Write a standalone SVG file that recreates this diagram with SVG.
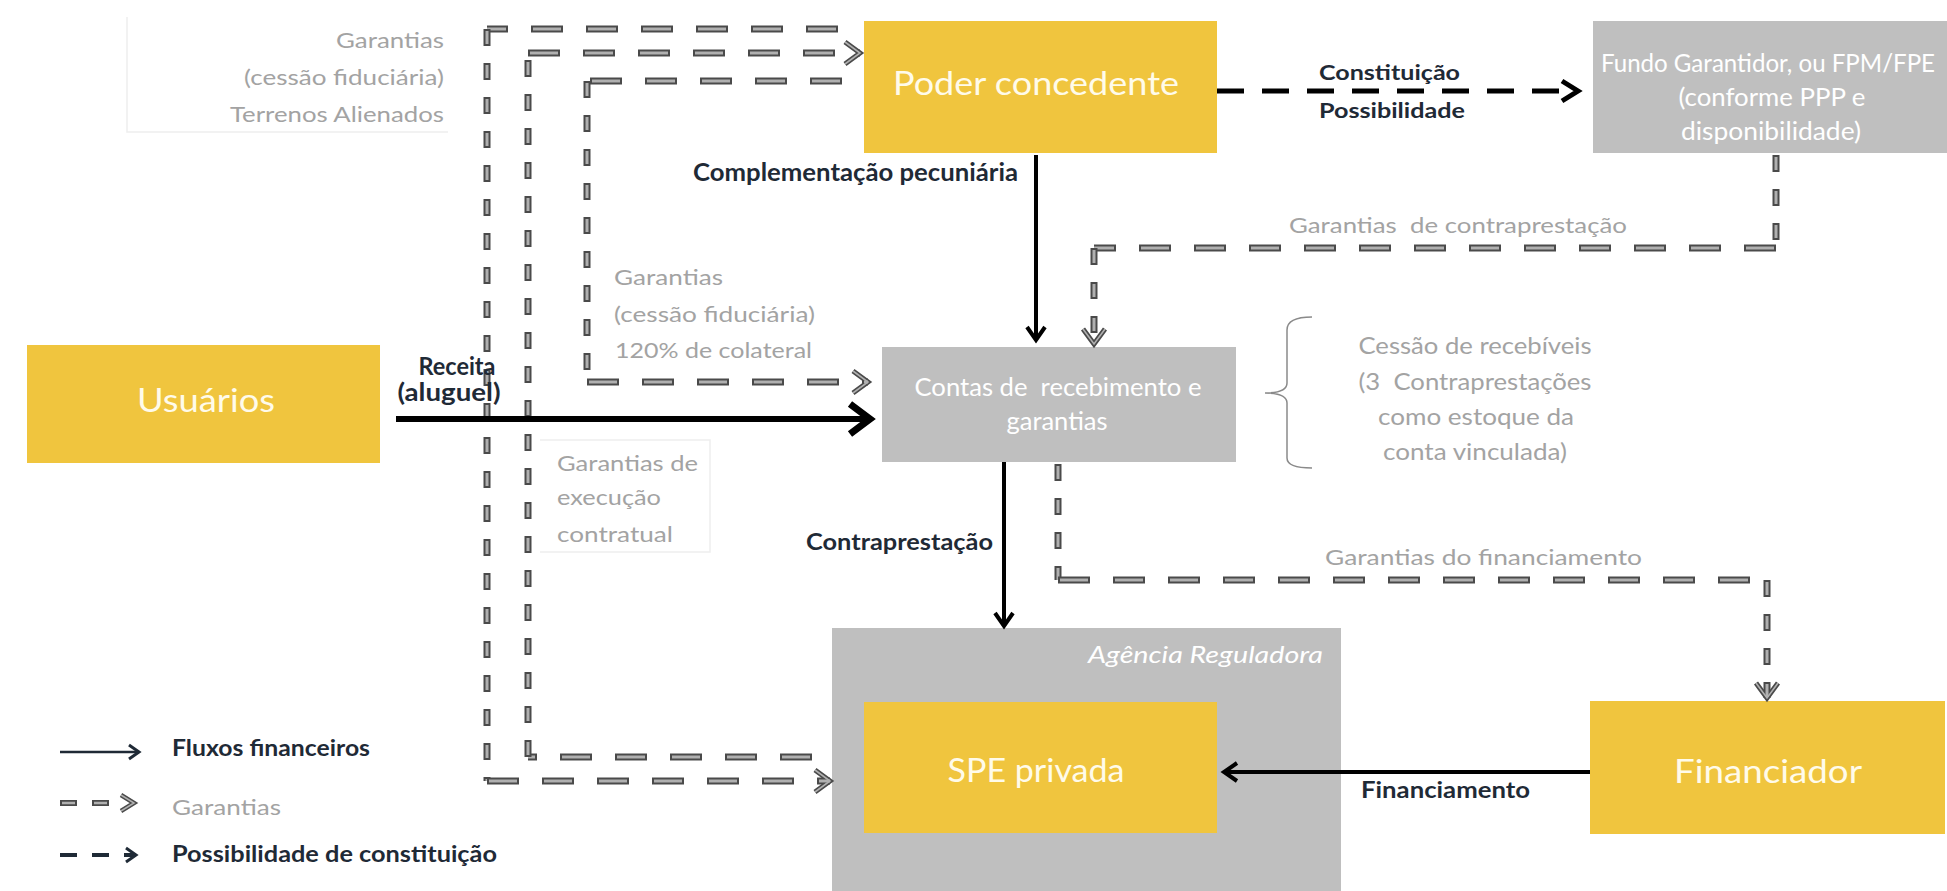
<svg xmlns="http://www.w3.org/2000/svg" width="1947" height="891" viewBox="0 0 1947 891">
<style>
text{font-family:Lato,"Liberation Sans",sans-serif}
.yel{fill:#F0C53E}
.gry{fill:#BFBFBF}
.wt{fill:#FFFBEA}
.ww{fill:#FFFFFF}
.dk{fill:#1F2A36;font-weight:bold}
.gt{fill:#A3A3A3}
.blk{stroke:#000;fill:none}
.go{stroke:#4A4A4A;stroke-width:7;fill:none}
.gi{stroke:#B0B0B0;stroke-width:3;fill:none}
.h.go{stroke-dasharray:32 23}
.h.gi{stroke-dasharray:28 27;stroke-dashoffset:-2}
.v.go{stroke-dasharray:17 17}
.v.gi{stroke-dasharray:13 21;stroke-dashoffset:-2}
.faint{stroke:#EEEEEE;stroke-width:1.5;fill:none}
</style>
<defs>
<marker id="mBig" markerUnits="userSpaceOnUse" orient="auto" overflow="visible" refX="0" refY="0" markerWidth="1" markerHeight="1">
<path d="M-20,-15 L0,0 L-20,15" stroke="#000" stroke-width="7" fill="none"/>
</marker>
<marker id="mMed" markerUnits="userSpaceOnUse" orient="auto" overflow="visible" refX="0" refY="0" markerWidth="1" markerHeight="1">
<path d="M-13,-9 L0,0 L-13,9" stroke="#000" stroke-width="4" fill="none"/>
</marker>
<marker id="mDash" markerUnits="userSpaceOnUse" orient="auto" overflow="visible" refX="0" refY="0" markerWidth="1" markerHeight="1">
<path d="M-16,-10 L0,0 L-16,10" stroke="#000" stroke-width="5" fill="none"/>
</marker>
<marker id="mGar" markerUnits="userSpaceOnUse" orient="auto" overflow="visible" refX="0" refY="0" markerWidth="1" markerHeight="1">
<path d="M-15,-11 L0,0 L-15,11" stroke="#4A4A4A" stroke-width="5" fill="none"/>
<path d="M-15,-11 L0,0 L-15,11" stroke="#B0B0B0" stroke-width="1.6" fill="none"/>
</marker>
<marker id="mSm" markerUnits="userSpaceOnUse" orient="auto" overflow="visible" refX="0" refY="0" markerWidth="1" markerHeight="1">
<path d="M-10,-7 L0,0 L-10,7" stroke="#1F2A36" stroke-width="3" fill="none"/>
</marker>
</defs>
<rect width="1947" height="891" fill="#FFFFFF"/>

<!-- faint text-box borders -->
<g id="faint-borders">
<path class="faint" d="M127,17 L127,132 L448,132"/>
<path class="faint" d="M540,440 L710,440 L710,552 L540,552"/>
</g>

<!-- nodes -->
<g id="agencia">
<rect class="gry" x="832" y="628" width="509" height="263"/>
<text class="ww" x="1088" y="663" font-size="23" font-style="italic" textLength="235" lengthAdjust="spacingAndGlyphs">Agência Reguladora</text>
</g>
<g id="poder">
<rect class="yel" x="864" y="21" width="353" height="132"/>
<text class="wt" x="1036" y="95" font-size="32" text-anchor="middle" textLength="286" lengthAdjust="spacingAndGlyphs">Poder concedente</text>
</g>
<g id="fundo">
<rect class="gry" x="1593" y="21" width="354" height="132"/>
<text class="ww" x="1768" y="72" font-size="25" text-anchor="middle" textLength="334" lengthAdjust="spacingAndGlyphs">Fundo Garantidor, ou FPM/FPE</text>
<text class="ww" x="1772" y="106" font-size="25" text-anchor="middle" textLength="187" lengthAdjust="spacingAndGlyphs">(conforme PPP e</text>
<text class="ww" x="1771" y="140" font-size="25" text-anchor="middle" textLength="180" lengthAdjust="spacingAndGlyphs">disponibilidade)</text>
</g>
<g id="usuarios">
<rect class="yel" x="27" y="345" width="353" height="118"/>
<text class="wt" x="206" y="412" font-size="32" text-anchor="middle" textLength="138" lengthAdjust="spacingAndGlyphs">Usuários</text>
</g>
<g id="contas">
<rect class="gry" x="882" y="347" width="354" height="115"/>
<text class="ww" x="1058" y="396" font-size="25" text-anchor="middle" textLength="287" lengthAdjust="spacingAndGlyphs" xml:space="preserve">Contas de  recebimento e</text>
<text class="ww" x="1057" y="430" font-size="25" text-anchor="middle" textLength="101" lengthAdjust="spacingAndGlyphs">garantias</text>
</g>
<g id="spe">
<rect class="yel" x="864" y="702" width="353" height="131"/>
<text class="wt" x="1036" y="782" font-size="33" text-anchor="middle" textLength="177" lengthAdjust="spacingAndGlyphs">SPE privada</text>
</g>
<g id="financiador">
<rect class="yel" x="1590" y="701" width="355" height="133"/>
<text class="wt" x="1768" y="783" font-size="33" text-anchor="middle" textLength="188" lengthAdjust="spacingAndGlyphs">Financiador</text>
</g>
<g id="cessao">
<path d="M1312,317 Q1287,317 1287,330 L1287,383 Q1287,393 1265,393 Q1287,393 1287,403 L1287,458 Q1287,468 1312,468" stroke="#8A8A8A" stroke-width="1.5" fill="none"/>
<g class="gt" font-size="23" text-anchor="middle">
<text x="1475" y="354" textLength="233" lengthAdjust="spacingAndGlyphs">Cessão de recebíveis</text>
<text x="1475" y="390" textLength="233" lengthAdjust="spacingAndGlyphs" xml:space="preserve">(3  Contraprestações</text>
<text x="1476" y="425" textLength="196" lengthAdjust="spacingAndGlyphs">como estoque da</text>
<text x="1475" y="460" textLength="184" lengthAdjust="spacingAndGlyphs">conta vinculada)</text>
</g>
</g>

<!-- connectors -->
<g id="connectors">
<!-- garantias: outer (Poder -> SPE) -->
<line class="h go" x1="838" y1="29" x2="487" y2="29"/>
<line class="h gi" x1="838" y1="29" x2="487" y2="29"/>
<line class="v go" x1="487" y1="29" x2="487" y2="781"/>
<line class="v gi" x1="487" y1="29" x2="487" y2="781"/>
<line class="h go" x1="487" y1="781" x2="830" y2="781" marker-end="url(#mGar)"/>
<line class="h gi" x1="487" y1="781" x2="830" y2="781"/>
<!-- garantias: middle (SPE -> Poder) -->
<line class="h go" x1="812" y1="757" x2="528" y2="757"/>
<line class="h gi" x1="812" y1="757" x2="528" y2="757"/>
<line class="v go" x1="528" y1="757" x2="528" y2="53"/>
<line class="v gi" x1="528" y1="757" x2="528" y2="53"/>
<line class="h go" x1="528" y1="53" x2="860" y2="53" marker-end="url(#mGar)"/>
<line class="h gi" x1="528" y1="53" x2="860" y2="53"/>
<!-- garantias: inner (Poder -> Contas) -->
<line class="h go" x1="842" y1="81" x2="587" y2="81"/>
<line class="h gi" x1="842" y1="81" x2="587" y2="81"/>
<line class="v go" x1="587" y1="81" x2="587" y2="382"/>
<line class="v gi" x1="587" y1="81" x2="587" y2="382"/>
<line class="h go" x1="587" y1="382" x2="868" y2="382" marker-end="url(#mGar)"/>
<line class="h gi" x1="587" y1="382" x2="868" y2="382"/>
<!-- garantias de contraprestacao (Fundo -> Contas) -->
<line class="v go" x1="1776" y1="155" x2="1776" y2="248"/>
<line class="v gi" x1="1776" y1="155" x2="1776" y2="248"/>
<line class="h go" x1="1776" y1="248" x2="1094" y2="248"/>
<line class="h gi" x1="1776" y1="248" x2="1094" y2="248"/>
<line class="v go" x1="1094" y1="248" x2="1094" y2="344" marker-end="url(#mGar)"/>
<line class="v gi" x1="1094" y1="248" x2="1094" y2="344"/>
<!-- garantias do financiamento (Contas -> Financiador) -->
<line class="v go" x1="1058" y1="464" x2="1058" y2="580"/>
<line class="v gi" x1="1058" y1="464" x2="1058" y2="580"/>
<line class="h go" x1="1058" y1="580" x2="1767" y2="580"/>
<line class="h gi" x1="1058" y1="580" x2="1767" y2="580"/>
<line class="v go" x1="1767" y1="580" x2="1767" y2="698" marker-end="url(#mGar)"/>
<line class="v gi" x1="1767" y1="580" x2="1767" y2="698"/>

<!-- financial flows -->
<line class="blk" x1="396" y1="419" x2="870" y2="419" stroke-width="6" marker-end="url(#mBig)"/>
<line class="blk" x1="1036" y1="155" x2="1036" y2="340" stroke-width="4" marker-end="url(#mMed)"/>
<line class="blk" x1="1004" y1="462" x2="1004" y2="626" stroke-width="4" marker-end="url(#mMed)"/>
<line class="blk" x1="1590" y1="772" x2="1224" y2="772" stroke-width="4" marker-end="url(#mMed)"/>
<!-- possibilidade de constituicao -->
<line class="blk" x1="1217" y1="91" x2="1578" y2="91" stroke-width="5" stroke-dasharray="27 18" marker-end="url(#mDash)"/>
</g>

<!-- connector labels -->
<g id="labels">
<text class="dk" x="693" y="181" font-size="24" textLength="325" lengthAdjust="spacingAndGlyphs">Complementação pecuniária</text>
<text class="dk" x="1319" y="80" font-size="21" textLength="141" lengthAdjust="spacingAndGlyphs">Constituição</text>
<text class="dk" x="1319" y="118" font-size="21" textLength="146" lengthAdjust="spacingAndGlyphs">Possibilidade</text>
<text class="gt" x="1289" y="233" font-size="22" textLength="338" lengthAdjust="spacingAndGlyphs" xml:space="preserve">Garantias  de contraprestação</text>
<text class="gt" x="1325" y="565" font-size="21" textLength="317" lengthAdjust="spacingAndGlyphs">Garantias do financiamento</text>
<text class="dk" x="806" y="550" font-size="23" textLength="187" lengthAdjust="spacingAndGlyphs">Contraprestação</text>
<text class="dk" x="1361" y="798" font-size="22" textLength="169" lengthAdjust="spacingAndGlyphs">Financiamento</text>
<text class="dk" x="457" y="375" font-size="24" text-anchor="middle" textLength="77" lengthAdjust="spacingAndGlyphs">Receita</text>
<text class="dk" x="449" y="401" font-size="24" text-anchor="middle" textLength="103" lengthAdjust="spacingAndGlyphs">(aluguel)</text>
<g class="gt" font-size="22" text-anchor="end">
<text x="444" y="48" textLength="108" lengthAdjust="spacingAndGlyphs">Garantias</text>
<text x="444" y="85" textLength="200" lengthAdjust="spacingAndGlyphs">(cessão fiduciária)</text>
<text x="444" y="122" textLength="214" lengthAdjust="spacingAndGlyphs">Terrenos Alienados</text>
</g>
<g class="gt" font-size="22">
<text x="614" y="285" textLength="109" lengthAdjust="spacingAndGlyphs">Garantias</text>
<text x="614" y="322" textLength="201" lengthAdjust="spacingAndGlyphs">(cessão fiduciária)</text>
<text x="615" y="358" textLength="197" lengthAdjust="spacingAndGlyphs">120% de colateral</text>
</g>
<g class="gt" font-size="22">
<text x="557" y="471" textLength="141" lengthAdjust="spacingAndGlyphs">Garantias de</text>
<text x="557" y="505" textLength="104" lengthAdjust="spacingAndGlyphs">execução</text>
<text x="557" y="542" textLength="116" lengthAdjust="spacingAndGlyphs">contratual</text>
</g>
</g>

<!-- legend -->
<g id="legend">
<line x1="60" y1="752" x2="139" y2="752" stroke="#1F2A36" stroke-width="2.5" marker-end="url(#mSm)"/>
<text class="dk" x="172" y="756" font-size="23" textLength="198" lengthAdjust="spacingAndGlyphs">Fluxos financeiros</text>
<line class="h go" x1="60" y1="803" x2="114" y2="803" style="stroke-dasharray:17 15;stroke-width:6"/>
<line class="h gi" x1="60" y1="803" x2="114" y2="803" style="stroke-dasharray:13 19;stroke-dashoffset:-2;stroke-width:2.5"/>
<path d="M121,795 L134,803 L121,811" stroke="#4A4A4A" stroke-width="4.5" fill="none"/>
<path d="M121,795 L134,803 L121,811" stroke="#B0B0B0" stroke-width="1.5" fill="none"/>
<text class="gt" x="172" y="815" font-size="22" textLength="109" lengthAdjust="spacingAndGlyphs">Garantias</text>
<line x1="60" y1="855" x2="136" y2="855" stroke="#1F2A36" stroke-width="4" stroke-dasharray="17 15" marker-end="url(#mSm)"/>
<text class="dk" x="172" y="862" font-size="23" textLength="325" lengthAdjust="spacingAndGlyphs">Possibilidade de constituição</text>
</g>
</svg>
